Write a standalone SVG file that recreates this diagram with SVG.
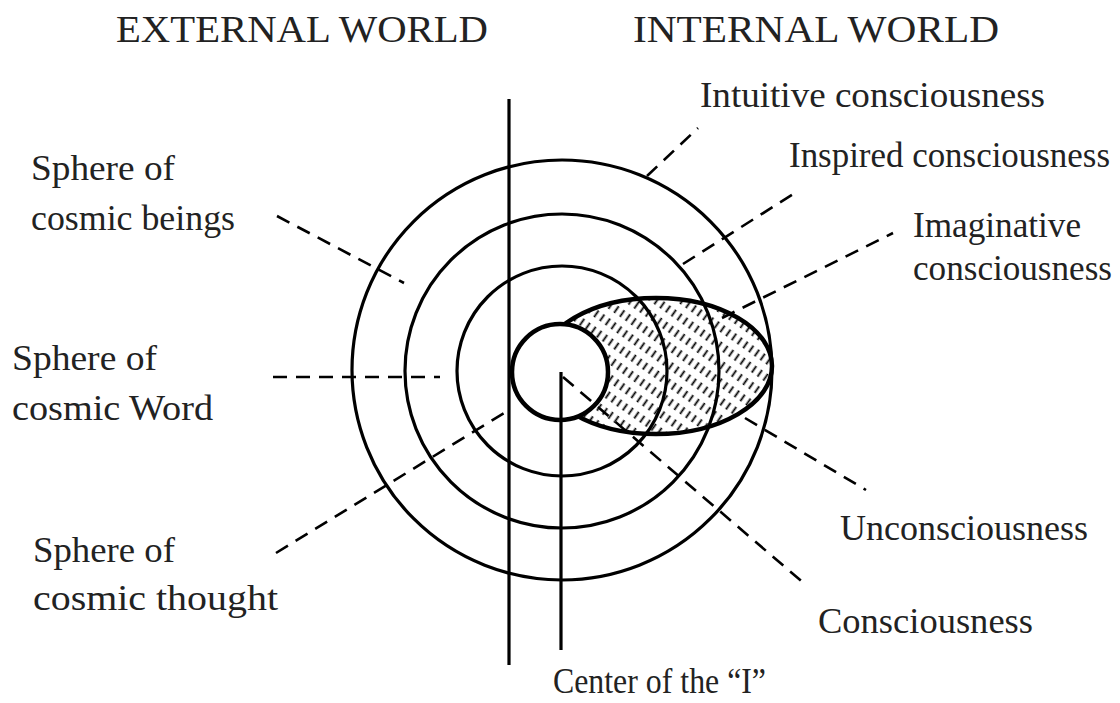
<svg xmlns="http://www.w3.org/2000/svg" width="1120" height="703" viewBox="0 0 1120 703">
<style>
text{font-family:"Liberation Serif","Times New Roman",serif;font-size:36px;fill:#222}
.title{font-size:38px}
.ring{fill:none;stroke:#000;stroke-width:3.2}
.bold{fill:none;stroke:#000;stroke-width:4.5}
.solid{stroke:#000;stroke-width:3.2;fill:none}
.dash{stroke:#000;stroke-width:2.6;stroke-dasharray:14 9;fill:none}
</style>
<defs>
<pattern id="hatch" patternUnits="userSpaceOnUse" width="7" height="15" patternTransform="rotate(35)">
<rect width="7" height="15" fill="#fff"/>
<line x1="3.5" y1="1" x2="3.5" y2="9" stroke="#000" stroke-width="1.8"/>
</pattern>
</defs>
<rect width="1120" height="703" fill="#fff"/>
<g id="titles">
<text class="title" x="116" y="42" textLength="372" lengthAdjust="spacingAndGlyphs">EXTERNAL WORLD</text>
<text class="title" x="633" y="42" textLength="366" lengthAdjust="spacingAndGlyphs">INTERNAL WORLD</text>
</g>
<g id="shaded-ellipse">
<ellipse cx="656" cy="366" rx="116" ry="68" fill="url(#hatch)"/>
</g>
<g id="spheres">
<circle id="outer-sphere" class="ring" cx="562" cy="370" r="210"/>
<circle id="middle-sphere" class="ring" cx="562" cy="371" r="157"/>
<circle id="inner-sphere" class="ring" cx="562" cy="371" r="105"/>
</g>
<g id="ellipse-outline">
<ellipse class="bold" cx="656" cy="366" rx="116" ry="68"/>
</g>
<g id="center-circle">
<circle cx="560" cy="372" r="48" fill="#fff" stroke="#000" stroke-width="4.5"/>
</g>
<g id="connectors">
<line class="solid" x1="509" y1="99" x2="509" y2="665"/>
<line class="solid" x1="561" y1="372" x2="561" y2="650"/>
<line class="dash" x1="647" y1="176" x2="698" y2="128"/>
<line class="dash" x1="683" y1="264" x2="798" y2="191"/>
<line class="dash" x1="722" y1="318" x2="893" y2="233"/>
<line class="dash" x1="277" y1="216" x2="404" y2="283"/>
<line class="dash" x1="273" y1="377" x2="440" y2="377"/>
<line class="dash" x1="276" y1="553" x2="509" y2="410"/>
<line class="dash" x1="745" y1="418" x2="866" y2="490"/>
<line class="dash" x1="563" y1="377" x2="806" y2="585"/>
</g>
<g id="labels">
<text x="700" y="107" textLength="345" lengthAdjust="spacingAndGlyphs">Intuitive consciousness</text>
<text x="789" y="167" textLength="321" lengthAdjust="spacingAndGlyphs">Inspired consciousness</text>
<text x="913" y="237" textLength="168" lengthAdjust="spacingAndGlyphs">Imaginative</text>
<text x="913" y="280" textLength="199" lengthAdjust="spacingAndGlyphs">consciousness</text>
<text x="31" y="180" textLength="144" lengthAdjust="spacingAndGlyphs">Sphere of</text>
<text x="31" y="230" textLength="204" lengthAdjust="spacingAndGlyphs">cosmic beings</text>
<text x="12" y="370" textLength="145" lengthAdjust="spacingAndGlyphs">Sphere of</text>
<text x="12" y="420" textLength="201" lengthAdjust="spacingAndGlyphs">cosmic Word</text>
<text x="33" y="562" textLength="142" lengthAdjust="spacingAndGlyphs">Sphere of</text>
<text x="33" y="610" textLength="245" lengthAdjust="spacingAndGlyphs">cosmic thought</text>
<text x="840" y="540" textLength="248" lengthAdjust="spacingAndGlyphs">Unconsciousness</text>
<text x="818" y="633" textLength="215" lengthAdjust="spacingAndGlyphs">Consciousness</text>
<text x="553" y="693" textLength="213" lengthAdjust="spacingAndGlyphs">Center of the “I”</text>
</g>
</svg>
